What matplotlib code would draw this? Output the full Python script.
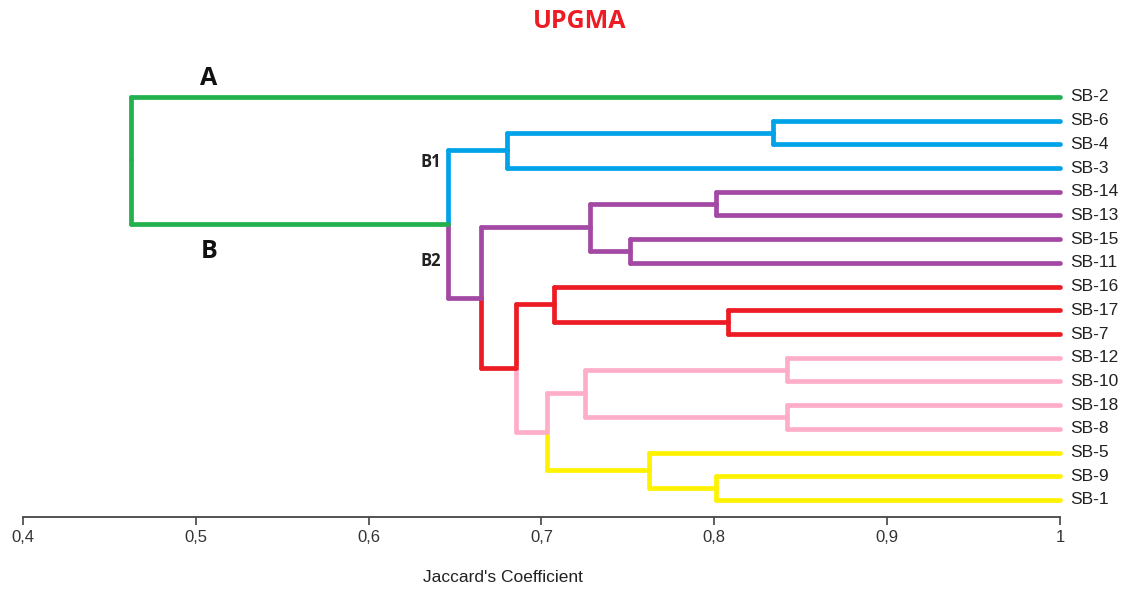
import matplotlib
matplotlib.use("Agg")
import matplotlib.pyplot as plt

# leaves, top to bottom
leaves = ['SB-2', 'SB-6', 'SB-4', 'SB-3', 'SB-14', 'SB-13', 'SB-15', 'SB-11', 'SB-16',
          'SB-17', 'SB-7', 'SB-12', 'SB-10', 'SB-18', 'SB-8', 'SB-5', 'SB-9', 'SB-1']
leaf_group = ['A', 'B1', 'B1', 'B1', 'P', 'P', 'P', 'P', 'R',
              'R', 'R', 'K', 'K', 'K', 'K', 'Y', 'Y', 'Y']

# merges (UPGMA): child ids (0-17 leaves, 18+ earlier merges) and Jaccard similarity
merge_left = [1, 18, 4, 6, 20, 9, 8, 11, 13, 25, 16, 15, 27, 24, 22, 19, 0]
merge_right = [2, 3, 5, 7, 21, 10, 23, 12, 14, 26, 17, 28, 29, 30, 31, 32, 33]
merge_sim = [0.834, 0.680, 0.801, 0.751, 0.728, 0.808, 0.707, 0.842, 0.842,
             0.725, 0.801, 0.762, 0.703, 0.685, 0.665, 0.646, 0.4625]

ticks = [0.4, 0.5, 0.6, 0.7, 0.8, 0.9, 1.0]
tick_labels = ['0,4', '0,5', '0,6', '0,7', '0,8', '0,9', '1']

colors = {'A': '#22b14c', 'B1': '#00a2e8', 'P': '#a349a4', 'R': '#ed1c24',
          'K': '#ffaec9', 'Y': '#fff200'}

fig = plt.figure(figsize=(11.24, 5.89), dpi=100)
ax = fig.add_axes([23 / 1124, 72 / 589, 1037 / 1124, 457 / 589])

n = len(leaves)
ypos = {i: float(i) for i in range(n)}
xpos = {i: 1.0 for i in range(n)}
col = {i: colors[leaf_group[i]] for i in range(n)}
lw = 3.4
root = n + len(merge_sim) - 1
for k, (a, b, s) in enumerate(zip(merge_left, merge_right, merge_sim)):
    node = n + k
    ypos[node] = (ypos[a] + ypos[b]) / 2
    xpos[node] = s
    col[node] = col[a]
    ca = col[a] if node != root else colors['A']
    cb = col[b] if node != root else colors['A']
    # arms
    ax.plot([s, xpos[a]], [ypos[a], ypos[a]], color=ca, lw=lw, solid_capstyle='round', clip_on=False)
    ax.plot([s, xpos[b]], [ypos[b], ypos[b]], color=cb, lw=lw, solid_capstyle='round', clip_on=False)
    # vertical, split at the node
    ax.plot([s, s], [ypos[a], ypos[node]], color=ca, lw=lw, solid_capstyle='round')
    ax.plot([s, s], [ypos[node], ypos[b]], color=cb, lw=lw, solid_capstyle='round')

for i, name in enumerate(leaves):
    ax.annotate(name, (1.0, i), xytext=(7, 0), textcoords='offset points',
                ha='left', va='center', fontsize=12.5, color='#222222',
                family='Liberation Sans', annotation_clip=False)

# group labels
nB = n + len(merge_sim) - 2
nB1 = merge_left[-2]
nB2 = merge_right[-2]
ax.text(0.5075, ypos[0] - 0.8, 'A', fontsize=18, fontweight='bold', family='Open Sans',
        ha='center', va='center', color='#111111')
ax.text(0.5075, ypos[nB] + 1.15, 'B', fontsize=18, fontweight='bold', family='Open Sans',
        ha='center', va='center', color='#111111')
ax.text(xpos[nB] - 0.004, ypos[nB1] + 0.5, 'B1', fontsize=12, fontweight='bold', family='Open Sans',
        ha='right', va='center', color='#222222')
ax.text(xpos[nB] - 0.004, (ypos[nB] + ypos[nB2]) / 2, 'B2', fontsize=12, fontweight='bold',
        family='Open Sans', ha='right', va='center', color='#222222')

ax.set_xlim(0.4, 1.0)
ax.set_ylim(17.72, -1.56)
for sp in ['left', 'right', 'top']:
    ax.spines[sp].set_visible(False)
ax.spines['bottom'].set_color('#444444')
ax.spines['bottom'].set_linewidth(1.3)
ax.set_yticks([])
ax.set_xticks(ticks)
ax.set_xticklabels(tick_labels, family='Liberation Sans', fontsize=12, color='#333333')
ax.tick_params(axis='x', direction='out', length=6, width=1.2, color='#444444', pad=3)
ax.set_xlabel("Jaccard's Coefficient", family='Liberation Sans', fontsize=12.5, color='#222222')
ax.xaxis.set_label_coords((503 - 23) / 1037, -(578 - 517) / 457)
ax.xaxis.label.set_va('center')

fig.text(580 / 1124, 1 - 22 / 589, 'UPGMA', color='#ed1c24', fontsize=18, fontweight='bold',
         family='Open Sans', ha='center', va='center')

fig.savefig('out.png', dpi=100)
